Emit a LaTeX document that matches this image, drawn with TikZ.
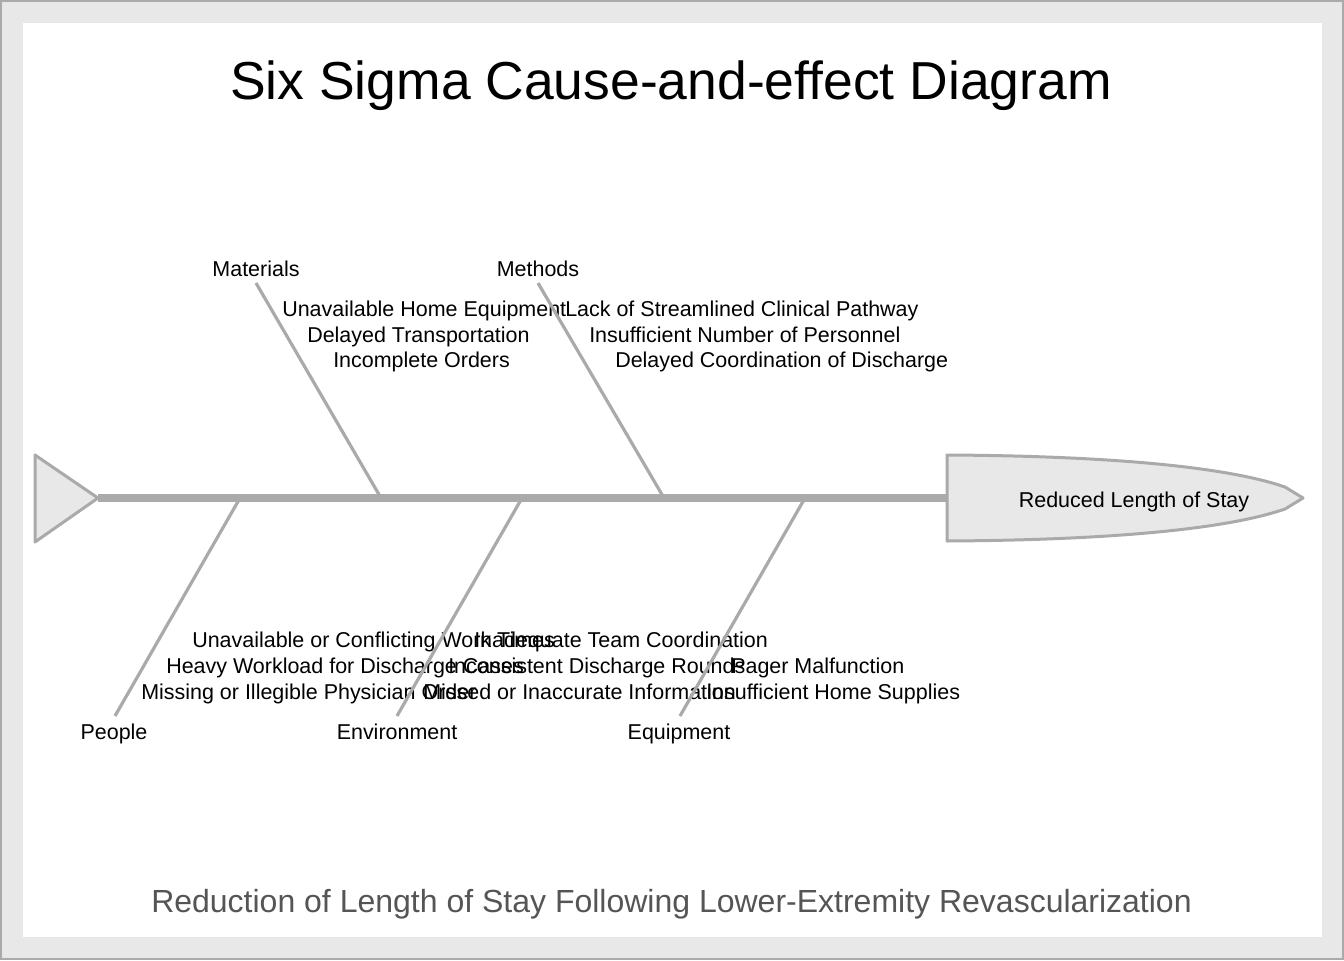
\documentclass[tikz,border=0pt]{standalone}
\usepackage{fontspec}
\setmainfont{Liberation Sans}
\usepackage{tikz}
\usetikzlibrary{calc}
\definecolor{bonegray}{HTML}{AAAAAA}
\definecolor{fillgray}{HTML}{E8E8E8}
\definecolor{subgray}{HTML}{555555}
\tikzset{
  bone/.style={draw=bonegray, line width=2.4pt},
  cause/.style={anchor=base west, inner sep=0pt, font=\fontsize{16.1}{18}\selectfont},
  category/.style={anchor=base, inner sep=0pt, font=\fontsize{16.1}{18}\selectfont},
}
\begin{document}
\begin{tikzpicture}[x=0.75pt,y=-0.75pt]
    % Рамка
    \useasboundingbox (0,0) rectangle (1344,960);
    \draw[fill=fillgray, draw=bonegray, line width=1.5pt] (1,1) rectangle (1343,959);
    \fill[white] (23,23) rectangle (1322,937);

    % Заголовки
    \node[anchor=base, inner sep=0pt, font=\fontsize{40.1}{44}\selectfont] (title) at (671,99) {Six Sigma Cause-and-effect Diagram};
    \node[anchor=base, inner sep=0pt, text=subgray, font=\fontsize{24}{28}\selectfont] (subtitle) at (671.5,912) {Reduction of Length of Stay Following Lower-Extremity Revascularization};

    % Хвіст і голова
    \coordinate (T1) at (35,455);
    \coordinate (T2) at (35,542);
    \coordinate (T) at (98,498);
    \coordinate (H) at (948,498);
    \draw[bonegray, line width=6pt] (T) -- (H);
    \draw[fill=fillgray, draw=bonegray, line width=2.25pt, line join=round] (T1) -- (T) -- (T2) -- cycle;
    \draw[fill=fillgray, draw=bonegray, line width=2.25pt, line join=round]
        (947,455) .. controls (1120,456) and (1230,468) .. (1285,487) -- (1303,498)
        -- (1285,509) .. controls (1230,528) and (1120,540) .. (947,541) -- cycle;
    \node[category] (effect) at (1134,507) {Reduced Length of Stay};

    % Категорії
    \node[category] (materials) at (256,276.5) {Materials};
    \node[category] (methods) at (538,276.5) {Methods};
    \node[category] (people) at (114,739.5) {People};
    \node[category] (environment) at (397,739.5) {Environment};
    \node[category] (equipment) at (679,739.5) {Equipment};

    % Причини
    \node[cause] (mat1) at (282,316) {Unavailable Home Equipment};
    \node[cause] (mat2) at (307,342) {Delayed Transportation};
    \node[cause] (mat3) at (333,367) {Incomplete Orders};
    \node[cause] (met1) at (565,316) {Lack of Streamlined Clinical Pathway};
    \node[cause] (met2) at (589,342) {Insufficient Number of Personnel};
    \node[cause] (met3) at (615,367) {Delayed Coordination of Discharge};
    \node[cause] (peo1) at (192,647) {Unavailable or Conflicting Work Times};
    \node[cause] (peo2) at (166,673) {Heavy Workload for Discharge Cases};
    \node[cause] (peo3) at (141,699) {Missing or Illegible Physician Order};
    \node[cause] (env1) at (474,647) {Inadequate Team Coordination};
    \node[cause] (env2) at (448,673) {Inconsistent Discharge Rounds};
    \node[cause] (env3) at (423,699) {Missed or Inaccurate Information};
    \node[cause] (equ1) at (731,673) {Pager Malfunction};
    \node[cause] (equ2) at (706,699) {Insufficient Home Supplies};

    % Кістки
    \coordinate (matA) at (256,283);
    \coordinate (matB) at (381,498);
    \coordinate (metA) at (538,283);
    \coordinate (metB) at (664,498);
    \coordinate (peoA) at (115,716);
    \coordinate (peoB) at (240,498);
    \coordinate (envA) at (397,716);
    \coordinate (envB) at (522,498);
    \coordinate (equA) at (680,716);
    \coordinate (equB) at (805,498);
    \draw[bone] (matA) -- (matB);
    \draw[bone] (metA) -- (metB);
    \draw[bone] (peoA) -- (peoB);
    \draw[bone] (envA) -- (envB);
    \draw[bone] (equA) -- (equB);
\end{tikzpicture}
\end{document}
